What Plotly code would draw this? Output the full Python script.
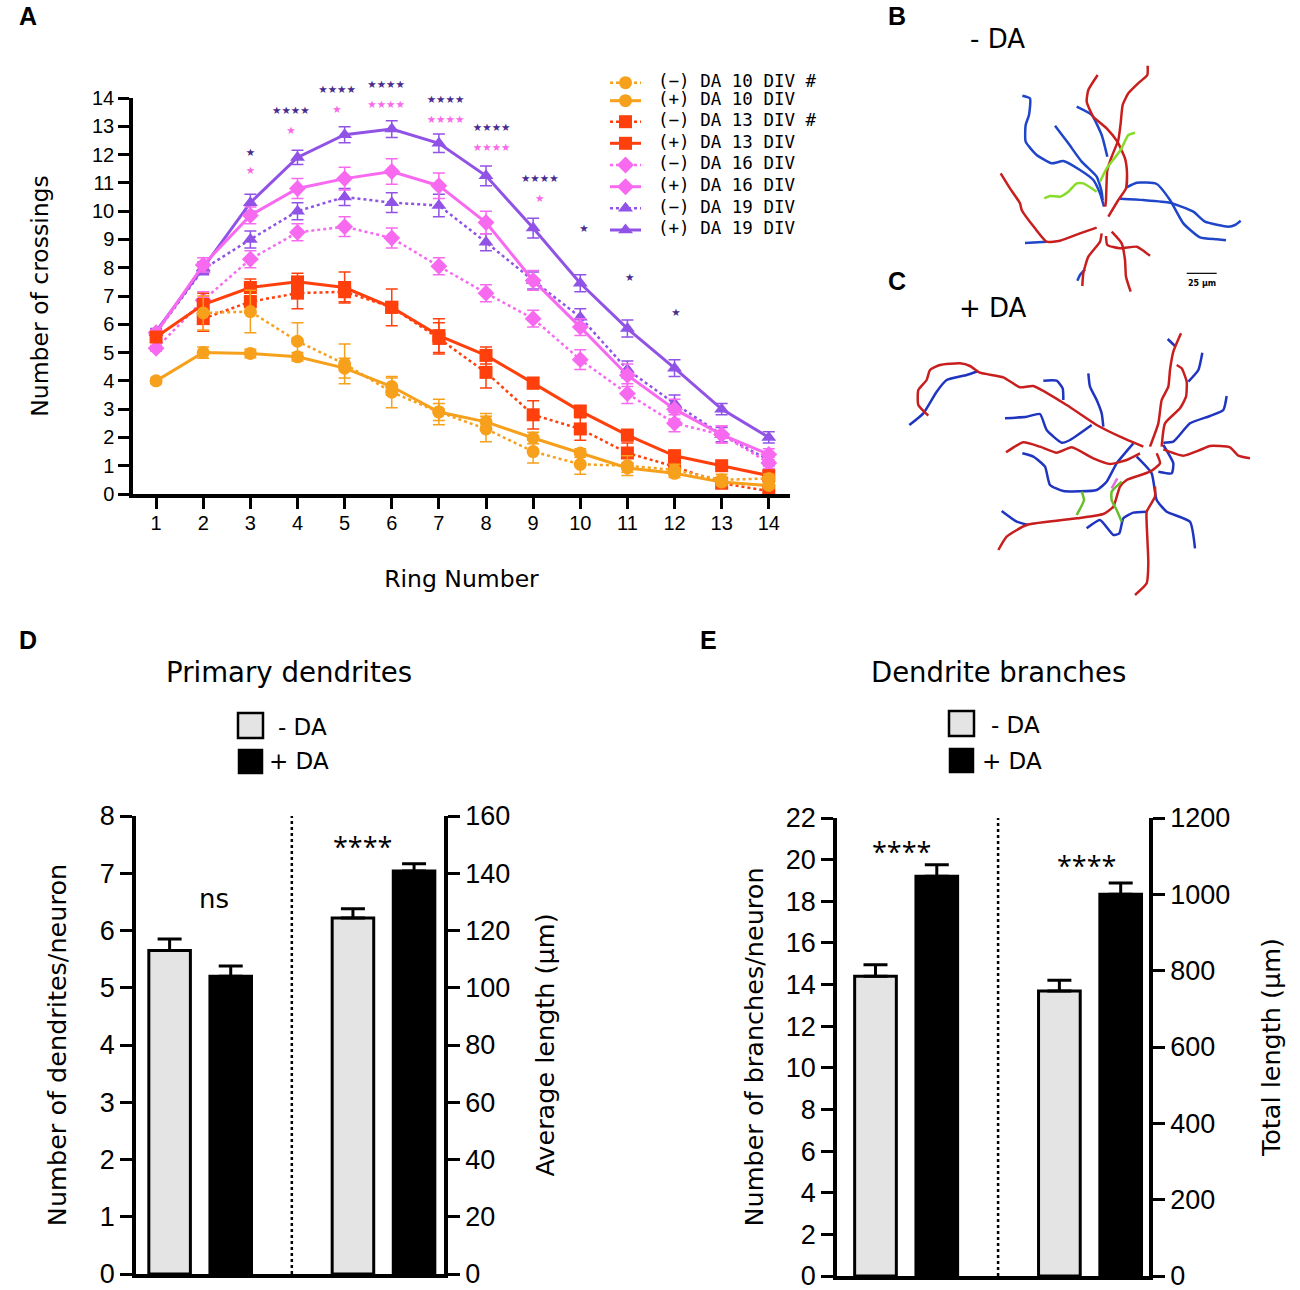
import plotly.graph_objects as go

W, H = 1300, 1290

# Panel A, Sholl analysis
rings = list(range(1, 15))
# the two dotted series with a # have no line into ring 1
minus_10 = [None, 6.4, 6.45, 5.4, 4.6, 3.6, 2.9, 2.3, 1.5, 1.05, 1.0, 0.85, 0.5, 0.55]
minus_10_err = [0, 0.6, 0.75, 0.65, 0.7, 0.55, 0.45, 0.45, 0.4, 0.35, 0.35, 0.2, 0.2, 0.15]
plus_10 = [4.0, 5.0, 4.97, 4.85, 4.45, 3.8, 2.9, 2.55, 1.98, 1.45, 0.92, 0.73, 0.42, 0.3]
plus_10_err = [0.1, 0.2, 0.15, 0.15, 0.35, 0.3, 0.3, 0.3, 0.2, 0.15, 0.15, 0.15, 0.1, 0.1]
minus_13 = [None, 6.2, 6.8, 7.1, 7.15, 6.6, 5.5, 4.3, 2.8, 2.3, 1.45, 0.97, 0.38, 0.1]
minus_13_err = [0, 0.45, 0.4, 0.55, 0.35, 0.1, 0.55, 0.55, 0.5, 0.4, 0.35, 0.3, 0.1, 0.1]
plus_13 = [5.55, 6.7, 7.3, 7.5, 7.3, 6.6, 5.6, 4.9, 3.92, 2.93, 2.08, 1.35, 1.0, 0.65]
plus_13_err = [0.1, 0.4, 0.3, 0.3, 0.55, 0.65, 0.6, 0.3, 0.2, 0.2, 0.2, 0.2, 0.1, 0.15]
minus_16 = [5.15, 6.85, 8.3, 9.25, 9.45, 9.05, 8.05, 7.1, 6.2, 4.75, 3.55, 2.5, 2.1, 1.1]
minus_16_err = [0.1, 0.3, 0.3, 0.3, 0.35, 0.35, 0.3, 0.3, 0.3, 0.35, 0.35, 0.3, 0.3, 0.2]
plus_16 = [5.7, 8.1, 9.85, 10.8, 11.15, 11.4, 10.9, 9.6, 7.55, 5.9, 4.2, 3.0, 2.1, 1.4]
plus_16_err = [0.1, 0.25, 0.3, 0.35, 0.4, 0.45, 0.45, 0.4, 0.35, 0.3, 0.4, 0.35, 0.3, 0.2]
minus_19 = [5.7, 7.95, 9.0, 10.0, 10.5, 10.3, 10.2, 8.9, 7.55, 6.25, 4.4, 3.2, 2.1, 1.2]
minus_19_err = [0.1, 0.2, 0.3, 0.3, 0.3, 0.35, 0.4, 0.3, 0.3, 0.3, 0.3, 0.3, 0.25, 0.2]
plus_19 = [5.75, 8.0, 10.3, 11.9, 12.7, 12.9, 12.4, 11.25, 9.4, 7.45, 5.85, 4.45, 3.0, 2.0]
plus_19_err = [0.1, 0.2, 0.3, 0.25, 0.28, 0.3, 0.33, 0.35, 0.35, 0.3, 0.3, 0.3, 0.2, 0.2]

# significance marks, panel A
dark_x = [3.0, 3.86, 4.84, 5.88, 7.14, 8.12, 9.14, 10.08, 11.05, 12.03]
dark_y = [12.06, 13.53, 14.27, 14.45, 13.92, 12.93, 11.13, 9.36, 7.63, 6.4]
dark_text = ["★", "★★★★", "★★★★", "★★★★", "★★★★", "★★★★", "★★★★", "★", "★", "★"]
pink_x = [3.0, 3.86, 4.84, 5.88, 7.14, 8.12, 9.14]
pink_y = [11.39, 12.83, 13.57, 13.75, 13.2, 12.22, 10.42]
pink_text = ["★", "★", "★", "★★★★", "★★★★", "★★★★", "★"]

# key of panel A, rows on the picture's vertical scale
key_rows = [82.7, 100.7, 121.7, 143.3, 165, 186.7, 208.3, 230]

# Panels D and E
bar_pos_left = [1, 2]
bar_pos_right = [4, 5]
primary_vals = [5.65, 5.2]
primary_err = [0.2, 0.18]
avg_len_vals = [124.4, 140.8]
avg_len_err = [3.2, 2.5]
branch_vals = [14.4, 19.2]
branch_err = [0.55, 0.55]
total_len_vals = [747, 1000]
total_len_err = [28, 30]

# Panel B tracing
b_red = [
    [(803, 197), (802, 225), (780, 245), (745, 280), (728, 315), (722, 370), (715, 420), (695, 470), (682, 510), (678, 600), (676, 620)],
    [(653, 225), (625, 270), (620, 305), (640, 350), (680, 385), (712, 425), (735, 475), (741, 520), (738, 565), (715, 600), (685, 650)],
    [(362, 520), (390, 565), (420, 610), (425, 630), (465, 685), (500, 725), (540, 722), (600, 700), (650, 683)],
    [(665, 700), (660, 725), (625, 770), (610, 820), (607, 858)],
    [(678, 708), (682, 735), (720, 745), (770, 740), (790, 752), (810, 767)],
    [(695, 695), (725, 730), (735, 780), (738, 830), (752, 875)],
]
b_blue = [
    [(427, 287), (450, 295), (447, 345), (437, 375), (437, 425), (470, 465), (515, 490), (550, 483), (600, 510), (640, 540), (660, 580), (672, 620)],
    [(525, 377), (565, 430), (605, 485), (650, 530), (665, 575), (668, 600)],
    [(590, 320), (635, 345), (665, 405), (682, 470)],
    [(740, 562), (770, 548), (830, 552), (870, 600), (910, 670), (960, 712), (1010, 718), (1038, 721)],
    [(720, 596), (790, 600), (870, 608), (940, 635), (975, 665), (1045, 680), (1065, 675), (1082, 662)],
    [(435, 729), (500, 725)],
    [(615, 808), (600, 825), (592, 842)],
]
b_green = [
    [(493, 595), (510, 588), (540, 590), (565, 575), (590, 550), (610, 550), (650, 575)],
    [(660, 545), (680, 505), (722, 450), (745, 405), (765, 398)],
]
b_scale_x = [920, 1010]
b_scale_y = [820, 820]

# Panel C tracing
c_red = [
    [(903, 130), (880, 185), (870, 240), (865, 290), (845, 330), (835, 400), (810, 470)],
    [(890, 225), (905, 235), (920, 275), (918, 320), (900, 355), (855, 400), (845, 470)],
    [(145, 377), (115, 345), (115, 300), (140, 270), (150, 240), (180, 225), (240, 220), (270, 228), (300, 248), (370, 262), (420, 292), (460, 288), (560, 345), (650, 405), (720, 440), (790, 470)],
    [(378, 487), (430, 457), (480, 470), (530, 488), (575, 472), (640, 505), (690, 522), (740, 510), (780, 490)],
    [(355, 780), (380, 740), (440, 705), (590, 685), (670, 672), (700, 650), (720, 590), (740, 570), (810, 545), (840, 520), (830, 490)],
    [(765, 915), (800, 880), (805, 820), (800, 700), (800, 665), (825, 620), (825, 590)],
    [(850, 478), (910, 497), (960, 480), (990, 468), (1050, 472), (1075, 497), (1110, 505)],
]
c_blue = [
    [(88, 405), (130, 370), (170, 305), (200, 270), (260, 255), (295, 243)],
    [(490, 272), (530, 272), (548, 295), (550, 330)],
    [(625, 250), (630, 290), (650, 330), (665, 370), (670, 410)],
    [(375, 385), (440, 380), (480, 372), (500, 420), (545, 458), (570, 450), (635, 405)],
    [(427, 490), (460, 500), (495, 530), (510, 585), (550, 603), (650, 600), (680, 575), (710, 520), (760, 460)],
    [(365, 663), (410, 695), (445, 705)],
    [(620, 715), (660, 690), (700, 735), (718, 730), (730, 685), (760, 668), (800, 665)],
    [(770, 500), (815, 550), (830, 630), (860, 665), (930, 695), (945, 775)],
    [(835, 545), (875, 550), (880, 520), (850, 465)],
    [(850, 458), (880, 455), (930, 400), (990, 378), (1030, 360), (1040, 318)],
    [(925, 275), (955, 240), (967, 188)],
    [(863, 147), (885, 168)],
]
c_green = [
    [(605, 605), (612, 630), (590, 675)],
    [(725, 575), (695, 605), (695, 630), (710, 660), (725, 695)],
]
c_pink = [[(712, 565), (695, 595)]]

ORANGE = "#F6A01C"
RED = "#FF3F0C"
PINK = "#F76AF0"
PURPLE = "#9152E6"
DARK_STAR = "#4A2C8F"
PINK_STAR = "#F76AE8"
TICK_FONT = "Liberation Sans"
TEXT_FONT = "DejaVu Sans"


def fx(px):
    return px / W


def fy(px):
    return 1 - px / H


fig = go.Figure()

series = [
    ("(−) DA 10 DIV #", minus_10, minus_10_err, ORANGE, "circle", "dot"),
    ("(+) DA 10 DIV", plus_10, plus_10_err, ORANGE, "circle", "solid"),
    ("(−) DA 13 DIV #", minus_13, minus_13_err, RED, "square", "dot"),
    ("(+) DA 13 DIV", plus_13, plus_13_err, RED, "square", "solid"),
    ("(−) DA 16 DIV", minus_16, minus_16_err, PINK, "diamond", "dot"),
    ("(+) DA 16 DIV", plus_16, plus_16_err, PINK, "diamond", "solid"),
    ("(−) DA 19 DIV", minus_19, minus_19_err, PURPLE, "triangle-up", "dot"),
    ("(+) DA 19 DIV", plus_19, plus_19_err, PURPLE, "triangle-up", "solid"),
]
# youngest cultures end up on top, so draw the list backwards
for name, vals, errs, color, symbol, dash in reversed(series):
    fig.add_trace(go.Scatter(
        x=rings, y=vals, name=name, mode="lines+markers", showlegend=False,
        line=dict(color=color, width=3 if dash == "solid" else 2.5, dash=dash),
        marker=dict(color=color, symbol=symbol, size=13),
        error_y=dict(type="data", array=errs, color=color, thickness=1.5, width=6),
        cliponaxis=False,
    ))

# stars sit above the 14 tick, so they get a taller hidden y axis on the same scale
fig.add_trace(go.Scatter(x=dark_x, y=dark_y, text=dark_text, mode="text", showlegend=False,
                         xaxis="x7", yaxis="y9",
                         textfont=dict(color=DARK_STAR, size=10.5, family="DejaVu Sans")))
fig.add_trace(go.Scatter(x=pink_x, y=pink_y, text=pink_text, mode="text", showlegend=False,
                         xaxis="x7", yaxis="y9",
                         textfont=dict(color=PINK_STAR, size=10.5, family="DejaVu Sans")))

# hand built key, plotly's own legend can't get the rows this tight
for row, (name, vals, errs, color, symbol, dash) in zip(key_rows, series):
    fig.add_trace(go.Scatter(
        x=[0, 0.5, 1], y=[row, row, row], mode="lines+markers", xaxis="x6", yaxis="y8", showlegend=False,
        line=dict(color=color, width=3 if dash == "solid" else 2.5, dash=dash),
        marker=dict(color=color, symbol=symbol, size=[0, 13, 0], opacity=1, line=dict(width=0)),
        hoverinfo="skip",
    ))
    fig.add_trace(go.Scatter(
        x=[1.55], y=[row], mode="text", text=[name], textposition="middle right",
        xaxis="x6", yaxis="y8", showlegend=False, hoverinfo="skip",
        textfont=dict(family="DejaVu Sans Mono", size=17.5, color="black"),
    ))


def add_bars(xa, ya, xs, vals, errs):
    for x, v, e, color in zip(xs, vals, errs, ["#E4E4E4", "black"]):
        fig.add_trace(go.Bar(
            x=[x], y=[v], width=0.68, xaxis=xa, yaxis=ya, showlegend=False,
            marker=dict(color=color, line=dict(color="black", width=3)),
            error_y=dict(type="data", symmetric=False, array=[e], arrayminus=[0],
                         color="black", thickness=3, width=12),
        ))


add_bars("x2", "y2", bar_pos_left, primary_vals, primary_err)
add_bars("x2", "y3", bar_pos_right, avg_len_vals, avg_len_err)
add_bars("x3", "y4", bar_pos_left, branch_vals, branch_err)
add_bars("x3", "y5", bar_pos_right, total_len_vals, total_len_err)


def add_tracing(xa, ya, branches, color, width=2.5):
    for branch in branches:
        fig.add_trace(go.Scatter(
            x=[p[0] for p in branch], y=[p[1] for p in branch], mode="lines",
            line=dict(color=color, width=width, shape="spline", smoothing=0.5), xaxis=xa, yaxis=ya,
            showlegend=False, hoverinfo="skip",
        ))


add_tracing("x4", "y6", b_blue, "#1F45C8")
add_tracing("x4", "y6", b_red, "#C81E1E")
add_tracing("x4", "y6", b_green, "#86DC28")
fig.add_trace(go.Scatter(x=b_scale_x, y=b_scale_y, mode="lines", line=dict(color="black", width=1.2),
                         xaxis="x4", yaxis="y6", showlegend=False))

add_tracing("x5", "y7", c_blue, "#1F35C0")
add_tracing("x5", "y7", c_red, "#C81E1E")
add_tracing("x5", "y7", c_green, "#66BE28")
add_tracing("x5", "y7", c_pink, "#E070E0")

axis_base = dict(showgrid=False, zeroline=False, showline=True, linecolor="black", ticks="outside",
                 tickcolor="black", automargin=False)


def y_axis(domain, anchor, vmax, dtick, title, side="left", standoff=30, **kw):
    return dict(axis_base, domain=domain, anchor=anchor, range=[0, vmax], dtick=dtick, side=side,
                linewidth=3.5, tickwidth=3, ticklen=12, ticklabeloverflow="allow",
                tickfont=dict(family=TICK_FONT, size=27, color="black"),
                title=dict(text=title, standoff=standoff, font=dict(family=TEXT_FONT, size=25.5, color="black")), **kw)


def blank_axis(domain, anchor, vrange):
    return dict(domain=domain, anchor=anchor, range=vrange, visible=False, automargin=False)


fig.update_layout(
    width=W, height=H, margin=dict(l=0, r=0, t=0, b=0),
    paper_bgcolor="white", plot_bgcolor="rgba(0,0,0,0)", barmode="overlay", showlegend=False,
    # Panel A
    xaxis=dict(axis_base, domain=[fx(133), fx(790)], anchor="y", range=[0.51, 14.45], tickvals=rings,
               linewidth=3.5, tickwidth=3, ticklen=11, ticklabelstandoff=-3,
               tickfont=dict(family=TICK_FONT, size=20, color="black"),
               title=dict(text="Ring Number", standoff=39, font=dict(family=TEXT_FONT, size=23.5, color="black"))),
    yaxis=dict(axis_base, domain=[fy(494), fy(98)], anchor="x", range=[0, 14], dtick=1,
               linewidth=3.5, tickwidth=3, ticklen=11,
               tickfont=dict(family=TICK_FONT, size=20, color="black"),
               title=dict(text="Number of crossings", standoff=38, font=dict(family=TEXT_FONT, size=23.5, color="black"))),
    # hidden twin of panel A's axes, 14 ticks span 396 px and this one runs 424 px
    xaxis7=blank_axis([fx(133), fx(790)], "y9", [0.51, 14.45]),
    yaxis9=blank_axis([fy(494), fy(70)], "x7", [0, 14.99]),
    # Panel D
    xaxis2=dict(axis_base, domain=[fx(136), fx(444)], anchor="y2", range=[0.45, 5.49], ticks="", showticklabels=False,
                linewidth=3.5),
    yaxis2=y_axis([fy(1274), fy(816)], "x2", 8, 1, "Number of dendrites/neuron", standoff=27),
    yaxis3=y_axis([fy(1274), fy(816)], "x2", 160, 20, "Average length (µm)", side="right", standoff=28, overlaying="y2"),
    # Panel E
    xaxis3=dict(axis_base, domain=[fx(837), fx(1149)], anchor="y4", range=[0.372, 5.462], ticks="", showticklabels=False,
                linewidth=3.5),
    yaxis4=y_axis([fy(1276), fy(818)], "x3", 22, 2, "Number of branches/neuron", standoff=16),
    yaxis5=y_axis([fy(1276), fy(818)], "x3", 1200, 200, "Total length (µm)", side="right", standoff=34, overlaying="y4"),
    # Panels B and C
    xaxis4=blank_axis([fx(880), fx(1280)], "y6", [0, 1200]),
    yaxis6=blank_axis([fy(300), fy(0)], "x4", [900, 0]),
    xaxis5=blank_axis([fx(880), fx(1280)], "y7", [0, 1200]),
    yaxis7=blank_axis([fy(610), fy(290)], "x5", [960, 0]),
    # Panel A key, 31 px wide swatch is one x unit
    xaxis6=blank_axis([fx(610), fx(830)], "y8", [0, 7.097]),
    yaxis8=blank_axis([fy(240), fy(70)], "x6", [240, 70]),
)


def note(px, py, text, size, family=TEXT_FONT, bold=False):
    fig.add_annotation(x=fx(px), y=fy(py), xref="paper", yref="paper", text=f"<b>{text}</b>" if bold else text,
                       showarrow=False, xanchor="center", yanchor="middle",
                       font=dict(family=family, size=size, color="black"))


for letter, px, py in [("A", 28, 16), ("B", 897, 16), ("C", 897, 281), ("D", 28, 640), ("E", 708, 640)]:
    note(px, py, letter, 25, family="Liberation Sans", bold=True)

note(997, 39, "- DA", 26)
note(993, 308, "+ DA", 26)
note(1202, 283, "25 µm", 8, bold=True)
note(289, 672, "Primary dendrites", 27.6)
note(998, 672, "Dendrite branches", 27.5)
note(302, 727, "- DA", 23)
note(299, 761, "+ DA", 23)
note(1015, 725, "- DA", 23)
note(1012, 761, "+ DA", 23)
note(214, 899, "ns", 26)
note(362, 846, "****", 27, family="Open Sans")
note(901, 851, "****", 27, family="Open Sans")
note(1086, 865, "****", 27, family="Open Sans")


def legend_box(x0, y0, x1, y1, color):
    fig.add_shape(type="rect", xref="paper", yref="paper", x0=fx(x0), x1=fx(x1), y0=fy(y1), y1=fy(y0),
                  fillcolor=color, line=dict(color="black", width=2.5))


legend_box(238, 713, 263, 738, "#E4E4E4")
legend_box(239, 750, 262, 773, "black")
legend_box(949, 711, 974, 736, "#E4E4E4")
legend_box(950, 749, 973, 772, "black")

# dotted dividers in the bar panels
fig.add_shape(type="line", xref="x2", yref="paper", x0=3, x1=3, y0=fy(1274), y1=fy(816),
              line=dict(color="black", width=2.5, dash="dot"))
fig.add_shape(type="line", xref="x3", yref="paper", x0=3, x1=3, y0=fy(1276), y1=fy(818),
              line=dict(color="black", width=2.5, dash="dot"))

fig.write_html("out.html", config=dict(displayModeBar=False), post_script="document.body.style.margin='0';")
